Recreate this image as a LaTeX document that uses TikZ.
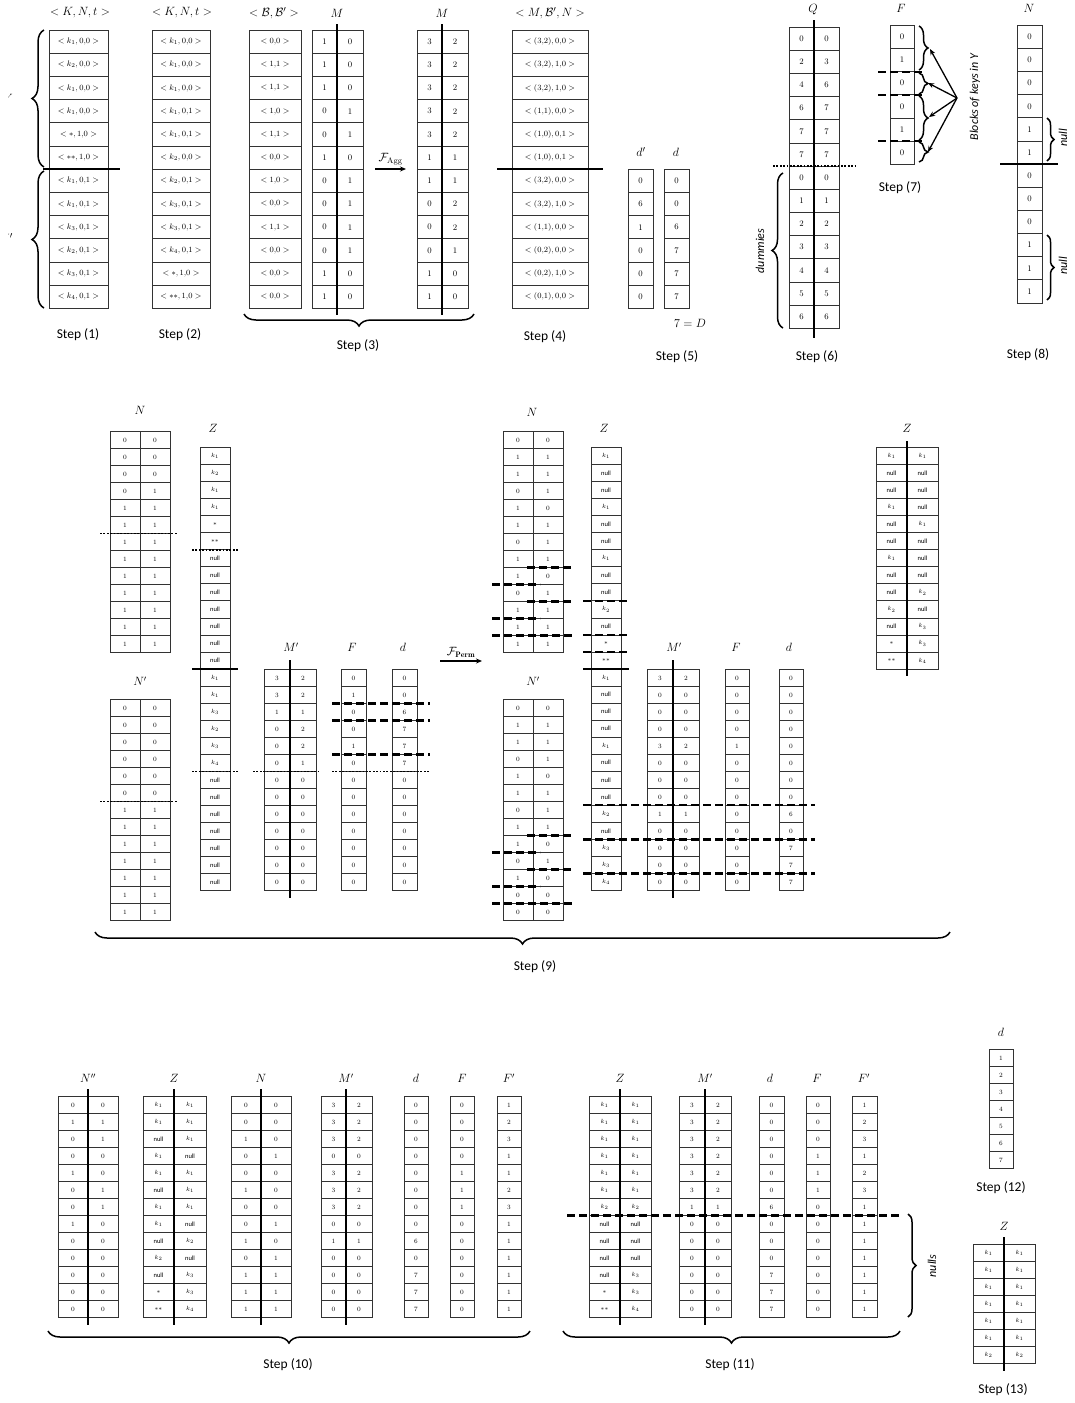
\documentclass[tikz,border=0pt]{standalone}
\usepackage{fontspec}
\newfontfamily\stepfont{Carlito}
\usetikzlibrary{decorations.pathreplacing,arrows.meta}
\newcommand\nll{{\stepfont null}}
\newcommand\onecol[7][cellB]{%
  \foreach \vv [count=\ii] in {#7}{%
    \node[#1, minimum width={(#4-#3)*1pt}, minimum height={#6*1pt}] (#2-\ii) at ({(#3+#4)/2},{#5+(\ii-0.5)*#6}) {\vv};
  }}
\newcommand\twocol[8][cellB]{%
  \foreach \va/\vb [count=\ii] in {#8}{%
    \node[#1, minimum width={(#4-#3)*1pt}, minimum height={#7*1pt}] (#2-\ii-a) at ({(#3+#4)/2},{#6+(\ii-0.5)*#7}) {\va};
    \node[#1, minimum width={(#5-#4)*1pt}, minimum height={#7*1pt}] (#2-\ii-b) at ({(#4+#5)/2},{#6+(\ii-0.5)*#7}) {\vb};
  }}
\tikzset{
 cellA/.style={draw=black!80, line width=0.8pt, inner sep=0pt, font=\fontsize{8.5}{9}\selectfont},
 cellB/.style={draw=black!80, line width=0.8pt, inner sep=0pt, font=\fontsize{6.5}{7}\selectfont},
 hdrA/.style={font=\fontsize{12.5}{14}\selectfont, inner sep=0pt},
 hdrB/.style={font=\fontsize{12}{14}\selectfont, inner sep=0pt},
 steplbl/.style={font=\stepfont\fontsize{13.5}{15}\selectfont, inner sep=0pt},
 itlbl/.style={font=\stepfont\itshape\fontsize{12}{14}\selectfont, inner sep=0pt, rotate=90},
 divider/.style={line width=1.6pt},
 sepline/.style={line width=1.6pt},
 dotline/.style={line width=1.8pt, dash pattern=on 1.8pt off 1.6pt},
 dashline/.style={line width=2.1pt, dash pattern=on 8pt off 4pt},
 bracedeco/.style={decorate, decoration={brace, amplitude=#1}, line width=1.5pt},
 bracedeco/.default=8pt,
 arr/.style={-{Stealth[length=6pt,width=5pt]}, line width=1.3pt},
}
\begin{document}
\begin{tikzpicture}[x=1pt,y=-1pt]
\useasboundingbox (0,0) rectangle (1075,1403);
% clipped fragments at the left edge
\begin{scope}
\clip (8,0) rectangle (1075,1403);
\node[hdrA, anchor=east] (fragY) at (13,98) {$Y$};
\node[hdrA, anchor=east] (fragYp) at (13,238) {$Y'$};
\end{scope}
% ================= TOP ROW =================
% Step 1
\node[hdrA] (h1) at (80,13) {$<K,N,t>$};
\onecol[cellA]{sa}{49}{108}{30}{23.2}{{$<k_1,0{,}0>$},{$<k_2,0{,}0>$},{$<k_1,0{,}0>$},{$<k_1,0{,}0>$},{$<*,1{,}0>$},{$<**,1{,}0>$},{$<k_1,0{,}1>$},{$<k_1,0{,}1>$},{$<k_3,0{,}1>$},{$<k_2,0{,}1>$},{$<k_3,0{,}1>$},{$<k_4,0{,}1>$}}
\draw[sepline] (43,169.2) -- (120,169.2);
\draw[bracedeco=12pt] (44,167) -- (44,30);
\draw[bracedeco=12pt] (44,308) -- (44,171);
\node[steplbl] (s1) at (78,335) {Step (1)};
% Step 2
\node[hdrA] (h2) at (182,13) {$<K,N,t>$};
\onecol[cellA]{sb}{152}{210}{30}{23.2}{{$<k_1,0{,}0>$},{$<k_1,0{,}0>$},{$<k_1,0{,}0>$},{$<k_1,0{,}1>$},{$<k_1,0{,}1>$},{$<k_2,0{,}0>$},{$<k_2,0{,}1>$},{$<k_3,0{,}1>$},{$<k_3,0{,}1>$},{$<k_4,0{,}1>$},{$<*,1{,}0>$},{$<**,1{,}0>$}}
\node[steplbl] (s2) at (180,335) {Step (2)};
% Step 3
\node[hdrA] (h3) at (274,13) {$<\mathcal{B},\mathcal{B}'>$};
\onecol[cellA]{bb}{249}{301}{30}{23.2}{{$<0{,}0>$},{$<1{,}1>$},{$<1{,}1>$},{$<1{,}0>$},{$<1{,}1>$},{$<0{,}0>$},{$<1{,}0>$},{$<0{,}0>$},{$<1{,}1>$},{$<0{,}0>$},{$<0{,}0>$},{$<0{,}0>$}}
\node[hdrA] (h4) at (337,13) {$M$};
\twocol[cellA]{ma}{312}{337}{363}{30}{23.2}{1/0,1/0,1/0,0/1,0/1,1/0,0/1,0/1,0/1,0/1,1/0,1/0}
\draw[divider] (337,24) -- (337,315);
\coordinate (aggS) at (375,169);
\coordinate (aggE) at (406,169);
\draw[arr] (aggS) -- node[above=3pt, font=\fontsize{12}{14}\selectfont, inner sep=0pt] (aggL) {$\mathcal{F}_{\mathrm{Agg}}$} (aggE);
\node[hdrA] (h5) at (442,13) {$M$};
\twocol[cellA]{mb}{417}{442}{468}{30}{23.2}{3/2,3/2,3/2,3/2,3/2,1/1,1/1,0/2,0/2,0/1,1/0,1/0}
\draw[divider] (442,24) -- (442,315);
\draw[bracedeco=12pt] (474,314) -- (244,314);
\node[steplbl] (s3) at (358,346) {Step (3)};
% Step 4
\node[hdrA] (h6) at (550,13) {$<M,\mathcal{B}',N>$};
\onecol[cellA]{mbn}{512}{588}{30}{23.2}{{$<(3{,}2),0{,}0>$},{$<(3{,}2),1{,}0>$},{$<(3{,}2),1{,}0>$},{$<(1{,}1),0{,}0>$},{$<(1{,}0),0{,}1>$},{$<(1{,}0),0{,}1>$},{$<(3{,}2),0{,}0>$},{$<(3{,}2),1{,}0>$},{$<(1{,}1),0{,}0>$},{$<(0{,}2),0{,}0>$},{$<(0{,}2),1{,}0>$},{$<(0{,}1),0{,}0>$}}
\draw[sepline] (497,169.2) -- (603,169.2);
\node[steplbl] (s4) at (545,337) {Step (4)};
% Step 5
\node[hdrA] (h7) at (641,152) {$d'$};
\node[hdrA] (h8) at (676,152) {$d$};
\onecol[cellA]{dp}{628}{653}{169.2}{23.2}{0,6,1,0,0,0}
\onecol[cellA]{dd}{664}{689}{169.2}{23.2}{0,0,6,7,7,7}
\node[hdrA] (eqD) at (690,323) {$7=D$};
\node[steplbl] (s5) at (677,357) {Step (5)};
% Step 6
\node[hdrA] (h9) at (813,10) {$Q$};
\twocol[cellA]{q}{789}{814}{839}{27}{23.18}{0/0,2/3,4/6,6/7,7/7,7/7,0/0,1/1,2/2,3/3,4/4,5/5,6/6}
\draw[divider] (814,20) -- (814,338);
\draw[dotline] (773,166) -- (855,166);
\draw[bracedeco=11pt] (783,328) -- (783,173);
\node[itlbl] (dum) at (760,251) {dummies};
\node[steplbl] (s6) at (817,357) {Step (6)};
% Step 7
\node[hdrA] (h10) at (901,8) {$F$};
\onecol[cellA]{f7}{890}{914}{25.3}{23.15}{0,1,0,0,1,0}
\draw[dashline] (878,71.6) -- (925,71.6);
\draw[dashline] (878,94.75) -- (925,94.75);
\draw[dashline] (878,141.05) -- (925,141.05);
\draw[bracedeco=9pt] (919,26) -- (919,70);
\draw[bracedeco=9pt] (919,73) -- (919,94);
\draw[bracedeco=9pt] (919,96) -- (919,140);
\draw[bracedeco=9pt] (919,142) -- (919,162);
\coordinate (blk) at (957,98);
\coordinate (b1) at (930,49);
\coordinate (b2) at (928,83);
\coordinate (b3) at (929,117);
\coordinate (b4) at (928,152);
\draw[arr] (blk) -- (b1);
\draw[arr] (blk) -- (b2);
\draw[arr] (blk) -- (b3);
\draw[arr] (blk) -- (b4);
\node[itlbl] (blklbl) at (975,97) {Blocks of keys in Y};
\node[steplbl] (s7) at (900,188) {Step (7)};
% Step 8
\node[hdrA] (h11) at (1029,8) {$N$};
\onecol[cellA]{n8}{1017}{1042}{25.3}{23.14}{0,0,0,0,1,1,0,0,0,1,1,1}
\draw[sepline] (1000,164) -- (1058,164);
\draw[bracedeco=7pt] (1047,118) -- (1047,161);
\node[itlbl] (nl1) at (1063,138) {null};
\draw[bracedeco=7pt] (1047,235) -- (1047,300);
\node[itlbl] (nl2) at (1063,266) {null};
\node[steplbl] (s8) at (1028,355) {Step (8)};
% ================= MIDDLE ROW (Step 9) =================
\node[hdrB] (h12) at (140,410) {$N$};
\twocol{nL}{110}{140}{170}{431.5}{17}{0/0,0/0,0/0,0/1,1/1,1/1,1/1,1/1,1/1,1/1,1/1,1/1,1/1}
\draw[dotline] (100,533.5) -- (178,533.5);
\node[hdrB] (h13) at (213,428) {$Z$};
\onecol{zL}{200}{230}{447.5}{17.04}{$k_1$,$k_2$,$k_1$,$k_1$,$*$,$**$,\nll,\nll,\nll,\nll,\nll,\nll,\nll,$k_1$,$k_1$,$k_3$,$k_2$,$k_3$,$k_4$,\nll,\nll,\nll,\nll,\nll,\nll,\nll}
\draw[dotline] (192,549.7) -- (238,549.7);
\draw[sepline] (192,669) -- (238,669);
\draw[dotline] (192,771.5) -- (238,771.5);
\node[hdrB] (h14) at (140,681) {$N'$};
\twocol{npL}{110}{140}{170}{699.5}{17}{0/0,0/0,0/0,0/0,0/0,0/0,1/1,1/1,1/1,1/1,1/1,1/1,1/1}
\draw[dotline] (100,801.5) -- (178,801.5);
\node[hdrB] (h15) at (291,647) {$M'$};
\twocol{mpL}{264}{290}{316}{669.5}{17}{3/2,3/2,1/1,0/2,0/2,0/1,0/0,0/0,0/0,0/0,0/0,0/0,0/0}
\draw[divider] (290,660) -- (290,898);
\node[hdrB] (h16) at (352,647) {$F$};
\onecol{fL}{341}{366}{669.5}{17}{0,1,0,0,1,0,0,0,0,0,0,0,0}
\node[hdrB] (h17) at (403,647) {$d$};
\onecol{dL}{392}{417}{669.5}{17}{0,0,6,7,7,7,0,0,0,0,0,0,0}
\draw[dashline] (332,703.5) -- (430,703.5);
\draw[dashline] (332,720.5) -- (430,720.5);
\draw[dashline] (332,754.5) -- (430,754.5);
\draw[dotline] (253,771.5) -- (320,771.5);
\draw[dotline] (332,771.5) -- (430,771.5);
\coordinate (permS) at (440,661);
\coordinate (permE) at (482,661);
\draw[arr] (permS) -- node[above=3pt, font=\fontsize{12}{14}\selectfont, inner sep=0pt] (permL) {$\mathcal{F}_{\mathbf{Perm}}$} (permE);
% right part
\node[hdrB] (h18) at (532,412) {$N$};
\twocol{nR}{503}{533}{563}{431.5}{17}{0/0,1/1,1/1,0/1,1/0,1/1,0/1,1/1,1/0,0/1,1/1,1/1,1/1}
\draw[dashline] (527,567.5) -- (573,567.5);
\draw[dashline] (492,584.5) -- (540,584.5);
\draw[dashline] (527,601.5) -- (573,601.5);
\draw[dashline] (492,618.5) -- (540,618.5);
\draw[dashline] (492,635.5) -- (575,635.5);
\node[hdrB] (h19) at (604,428) {$Z$};
\onecol{zR}{591}{621}{447.5}{17.04}{$k_1$,\nll,\nll,$k_1$,\nll,\nll,$k_1$,\nll,\nll,$k_2$,\nll,$*$,$**$,$k_1$,\nll,\nll,\nll,$k_1$,\nll,\nll,\nll,$k_2$,\nll,$k_3$,$k_3$,$k_4$}
\draw[dashline] (583,600.9) -- (629,600.9);
\draw[dashline] (583,634.9) -- (629,634.9);
\draw[dashline] (583,652) -- (629,652);
\draw[sepline] (583,669) -- (629,669);
\node[hdrB] (h20) at (533,681) {$N'$};
\twocol{npR}{503}{533}{563}{699.5}{17}{0/0,1/1,1/1,0/1,1/0,1/1,0/1,1/1,1/0,0/1,1/0,0/0,0/0}
\draw[dashline] (527,835.5) -- (573,835.5);
\draw[dashline] (492,852.5) -- (540,852.5);
\draw[dashline] (527,869.5) -- (573,869.5);
\draw[dashline] (492,886.5) -- (540,886.5);
\draw[dashline] (492,903.5) -- (575,903.5);
\node[hdrB] (h21) at (674,647) {$M'$};
\twocol{mpR}{647}{673}{699}{669.5}{17}{3/2,0/0,0/0,0/0,3/2,0/0,0/0,0/0,1/1,0/0,0/0,0/0,0/0}
\draw[divider] (673,660) -- (673,898);
\node[hdrB] (h22) at (736,647) {$F$};
\onecol{fR}{725}{749}{669.5}{17}{0,0,0,0,1,0,0,0,0,0,0,0,0}
\node[hdrB] (h23) at (789,647) {$d$};
\onecol{dR}{779}{803}{669.5}{17}{0,0,0,0,0,0,0,0,6,0,7,7,7}
\draw[dashline] (583,805.4) -- (815,805.4);
\draw[dashline] (583,839.5) -- (815,839.5);
\draw[dashline] (583,873.5) -- (815,873.5);
\node[hdrB] (h24) at (907,428) {$Z$};
\twocol{zF}{876}{907}{938}{447.5}{17.04}{$k_1$/$k_1$,\nll/\nll,\nll/\nll,$k_1$/\nll,\nll/$k_1$,\nll/\nll,$k_1$/\nll,\nll/\nll,\nll/$k_2$,$k_2$/\nll,\nll/$k_3$,$*$/$k_3$,$**$/$k_4$}
\draw[divider] (907,441) -- (907,676);
\draw[bracedeco=12pt] (950,932) -- (95,932);
\node[steplbl] (s9) at (535,967) {Step (9)};
% ================= BOTTOM ROW =================
\node[hdrB] (h25) at (88,1078) {$N''$};
\twocol{npp}{58}{88}{118}{1096.5}{17}{0/0,1/1,0/1,0/0,1/0,0/1,0/1,1/0,0/0,0/0,0/0,0/0,0/0}
\draw[divider] (88,1089) -- (88,1325);
\node[hdrB] (h26) at (174,1078) {$Z$};
\twocol{zb}{143}{174}{206}{1096.5}{17}{$k_1$/$k_1$,$k_1$/$k_1$,\nll/$k_1$,$k_1$/\nll,$k_1$/$k_1$,\nll/$k_1$,$k_1$/$k_1$,$k_1$/\nll,\nll/$k_2$,$k_2$/\nll,\nll/$k_3$,$*$/$k_3$,$**$/$k_4$}
\draw[divider] (174,1089) -- (174,1325);
\node[hdrB] (h27) at (261,1078) {$N$};
\twocol{nb}{231}{261}{291}{1096.5}{17}{0/0,0/0,1/0,0/1,0/0,1/0,0/0,0/1,1/0,0/1,1/1,1/1,1/1}
\draw[divider] (261,1089) -- (261,1325);
\node[hdrB] (h28) at (346,1078) {$M'$};
\twocol{mpb}{321}{346}{372}{1096.5}{17}{3/2,3/2,3/2,0/0,3/2,3/2,3/2,0/0,1/1,0/0,0/0,0/0,0/0}
\draw[divider] (346,1089) -- (346,1325);
\node[hdrB] (h29) at (416,1078) {$d$};
\onecol{db}{404}{428}{1096.5}{17}{0,0,0,0,0,0,0,0,6,0,7,7,7}
\node[hdrB] (h30) at (462,1078) {$F$};
\onecol{fb}{450}{474}{1096.5}{17}{0,0,0,0,1,1,1,0,0,0,0,0,0}
\node[hdrB] (h31) at (509,1078) {$F'$};
\onecol{fpb}{497}{521}{1096.5}{17}{1,2,3,1,1,2,3,1,1,1,1,1,1}
\draw[bracedeco=12pt] (530,1331) -- (48,1331);
\node[steplbl] (s10) at (288,1365) {Step (10)};
% Step 11
\node[hdrB] (h32) at (620,1078) {$Z$};
\twocol{zc}{589}{620}{651}{1096.5}{17}{$k_1$/$k_1$,$k_1$/$k_1$,$k_1$/$k_1$,$k_1$/$k_1$,$k_1$/$k_1$,$k_1$/$k_1$,$k_2$/$k_2$,\nll/\nll,\nll/\nll,\nll/\nll,\nll/$k_3$,$*$/$k_3$,$**$/$k_4$}
\draw[divider] (620,1089) -- (620,1325);
\node[hdrB] (h33) at (705,1078) {$M'$};
\twocol{mpc}{679}{705}{731}{1096.5}{17}{3/2,3/2,3/2,3/2,3/2,3/2,1/1,0/0,0/0,0/0,0/0,0/0,0/0}
\draw[divider] (705,1089) -- (705,1325);
\node[hdrB] (h34) at (770,1078) {$d$};
\onecol{dc}{759}{784}{1096.5}{17}{0,0,0,0,0,0,6,0,0,0,7,7,7}
\node[hdrB] (h35) at (817,1078) {$F$};
\onecol{fc}{806}{830}{1096.5}{17}{0,0,0,1,1,1,0,0,0,0,0,0,0}
\node[hdrB] (h36) at (864,1078) {$F'$};
\onecol{fpc}{852}{877}{1096.5}{17}{1,2,3,1,2,3,1,1,1,1,1,1,1}
\draw[dashline] (567,1215.5) -- (902,1215.5);
\draw[bracedeco=8pt] (908,1214) -- (908,1317);
\node[itlbl] (nulls) at (932,1266) {nulls};
\draw[bracedeco=12pt] (900,1331) -- (563,1331);
\node[steplbl] (s11) at (730,1365) {Step (11)};
% Step 12
\node[hdrB] (h37) at (1001,1032) {$d$};
\onecol{de}{989}{1013}{1049.5}{17}{1,2,3,4,5,6,7}
\node[steplbl] (s12) at (1001,1188) {Step (12)};
% Step 13
\node[hdrB] (h38) at (1004,1226) {$Z$};
\twocol{zd}{973}{1004}{1035}{1244.5}{17}{$k_1$/$k_1$,$k_1$/$k_1$,$k_1$/$k_1$,$k_1$/$k_1$,$k_1$/$k_1$,$k_1$/$k_1$,$k_2$/$k_2$}
\draw[divider] (1004,1237) -- (1004,1371);
\node[steplbl] (s13) at (1003,1390) {Step (13)};
\end{tikzpicture}
\end{document}
